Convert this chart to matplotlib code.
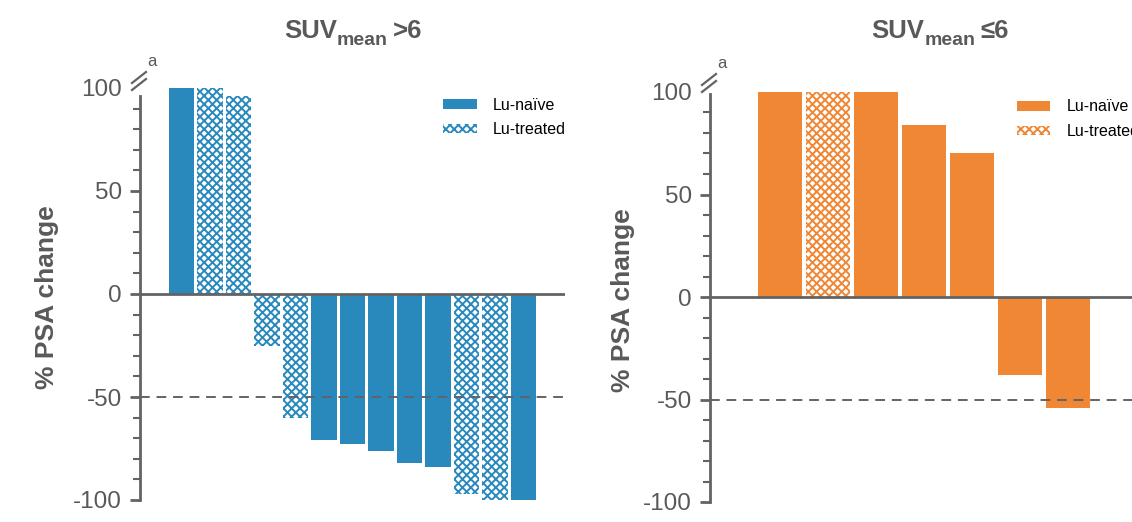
"""
Waterfall plots of PSA change split by SUVmean (>6 vs <=6).
Output: out.png
"""
import numpy as np
import matplotlib
matplotlib.use("Agg")
import matplotlib.pyplot as plt
from matplotlib.patches import Patch
from matplotlib.lines import Line2D

plt.rcParams['font.family'] = ['Liberation Sans', 'DejaVu Sans']
plt.rcParams['axes.unicode_minus'] = False
plt.rcParams['hatch.linewidth'] = 1.4

# --------- DATA ---------
high_change = [100, 100, 96, -25, -60, -71, -73, -76, -82, -84, -97, -100, -100]
high_treated = [False, True, True, True, True, False, False, False, False, False, True, True, False]

low_change = [100, 100, 100, 84, 70, -38, -54]
low_treated = [False, True, False, False, False, False, False]

yticks = [-100, -50, 0, 50, 100]
legend_labels = ['Lu-naïve', 'Lu-treated']

BLUE = '#2989bd'
ORANGE = '#f08735'
GREY = '#595959'
AXIS = '#636363'
HATCH = 'xxxx'  # 6 lines/inch per 'x' -> ~4 px mesh, reads as the checker fill

W, H = 1132, 522


def px_axes(x0, x1, y_top, y_bot):
    return fig.add_axes([x0 / W, (H - y_bot) / H, (x1 - x0) / W, (y_bot - y_top) / H])


def waterfall(ax, values, treated, color, xlim, spine_top):
    x = np.arange(len(values))
    for xi, v, t in zip(x, values, treated):
        if t:
            ax.bar(xi, v, width=0.9, facecolor='white', edgecolor=color,
                   linewidth=0, hatch=HATCH)
        else:
            ax.bar(xi, v, width=0.9, color=color, linewidth=0)
    ax.axhline(0, color=AXIS, lw=2, zorder=3)
    ax.axhline(-50, color=AXIS, lw=1.4, ls=(0, (5, 3.5)), zorder=3)
    ax.set_xlim(*xlim)
    ax.set_ylim(-100, 110)
    for s in ['top', 'right', 'bottom']:
        ax.spines[s].set_visible(False)
    ax.spines['left'].set_color(AXIS)
    ax.spines['left'].set_linewidth(2)
    ax.spines['left'].set_bounds(-100, spine_top)
    ax.set_xticks([])
    ax.set_yticks(yticks)
    ax.set_yticks(np.arange(-90, 100, 10), minor=True)
    ax.tick_params(axis='y', which='major', length=7, width=2, color=AXIS,
                   labelsize=17.5, labelcolor=GREY, pad=6)
    ax.tick_params(axis='y', which='minor', length=5, width=1.5, color=AXIS)
    ax.yaxis.get_major_ticks()[-1].tick1line.set_visible(False)
    ax.set_ylabel('% PSA change', fontsize=19, fontweight='bold', color=GREY, labelpad=10)

    handles = [Patch(facecolor=color, linewidth=0),
               Patch(facecolor='white', edgecolor=color, linewidth=0, hatch=HATCH)]
    return handles


def breakmark(ax_x, y):
    # two short slanted strokes above the axis top, plus the superscript "a"
    for dy in (0, 7):
        fig.add_artist(Line2D([(ax_x - 8) / W, (ax_x + 6) / W],
                              [(H - (y + dy + 11)) / H, (H - (y + dy)) / H],
                              color=AXIS, lw=1.6))
    fig.text((ax_x + 12) / W, (H - y + 10) / H, 'a', fontsize=12, color=GREY,
             ha='center', va='center')


def title(xc, yc, main, sub, tail):
    # "SUV" + subscript "mean" + tail, centred on xc
    r = fig.canvas.get_renderer()
    parts = [(main, 18.5, 0), (sub, 14, -7), (tail, 18.5, 0)]
    texts = []
    for s, size, dy in parts:
        t = fig.text(0, (H - yc + dy) / H, s, fontsize=size, fontweight='bold',
                     color=GREY, ha='left', va='baseline')
        texts.append(t)
    widths = [t.get_window_extent(r).width for t in texts]
    widths[1] += 5
    x = xc - sum(widths) / 2
    for t, w in zip(texts, widths):
        t.set_x(x / W)
        x += w


fig = plt.figure(figsize=(W / 100, H / 100), dpi=100)

# --------- LEFT: SUVmean > 6 ---------
ax1 = px_axes(140, 565, 67.4, 500)
h1 = waterfall(ax1, high_change, high_treated, BLUE, (-1.456, 13.46), 96)
ax1.yaxis.set_label_coords(-0.19, 0.47)
ax1.legend(h1, legend_labels, loc='upper left', bbox_to_anchor=(0.713, 0.93),
           frameon=False, fontsize=11.5, handlelength=2.1, handleheight=0.55,
           handletextpad=1.0, labelspacing=0.6, borderpad=0, borderaxespad=0)
breakmark(140, 72)
title(353, 38, 'SUV', 'mean', '>6')

# --------- RIGHT: SUVmean <= 6 ---------
ax2 = px_axes(710, 1170, 71.5, 502)
h2 = waterfall(ax2, low_change, low_treated, ORANGE, (-1.458, 8.125), 99)
ax2.yaxis.set_label_coords(-0.164, 0.47)
ax2.legend(h2, legend_labels, loc='upper left', bbox_to_anchor=(0.667, 0.935),
           frameon=False, fontsize=11.5, handlelength=2.1, handleheight=0.55,
           handletextpad=1.0, labelspacing=0.6, borderpad=0, borderaxespad=0)
breakmark(710, 74)
title(940, 38, 'SUV', 'mean', '≤6')

fig.savefig('out.png', dpi=100)
